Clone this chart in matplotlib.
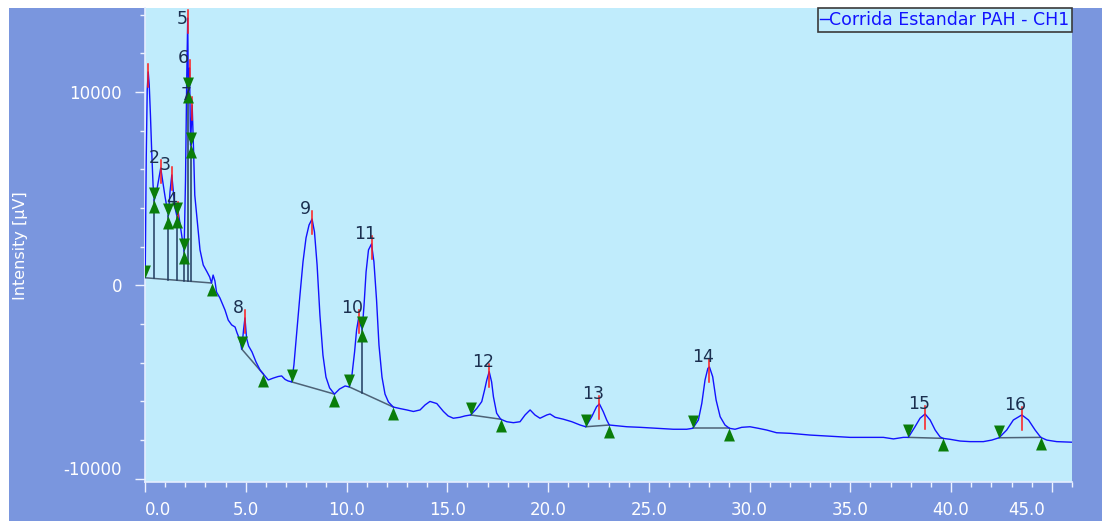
# coding: utf-8
import numpy as np
import matplotlib.pyplot as plt
from matplotlib.patches import Rectangle
from matplotlib.transforms import ScaledTranslation

plt.rcParams['axes.unicode_minus'] = False

# Cromatograma: tiempo de retencion [min] / intensidad [uV]
tiempo = [
	0.01, 0.06, 0.11, 0.16, 0.21, 0.27, 0.33, 0.40, 0.46, 0.57,
	0.69, 0.78, 0.87, 0.99, 1.16, 1.24, 1.33, 1.40, 1.49, 1.57,
	1.63, 1.71, 1.84, 1.94, 2.01, 2.07, 2.12, 2.15, 2.21, 2.26,
	2.34, 2.41, 2.47, 2.61, 2.73, 2.89, 3.08, 3.21, 3.30, 3.38,
	3.47, 3.55, 3.72, 3.97, 4.13, 4.30, 4.47, 4.57, 4.71, 4.80,
	4.89, 4.96, 5.04, 5.14, 5.31, 5.51, 5.71, 5.87, 6.12, 6.37,
	6.61, 6.78, 6.95, 7.10, 7.28, 7.39, 7.54, 7.69, 7.84, 7.99,
	8.14, 8.29, 8.41, 8.54, 8.68, 8.83, 8.98, 9.16, 9.40, 9.65,
	9.93, 10.14, 10.27, 10.40, 10.50, 10.60, 10.69, 10.78, 10.87, 10.97,
	11.09, 11.24, 11.36, 11.49, 11.61, 11.76, 11.91, 12.08, 12.32, 12.66,
	12.99, 13.32, 13.65, 13.90, 14.14, 14.48, 14.81, 15.04, 15.30, 15.63,
	15.88, 16.16, 16.46, 16.71, 16.85, 16.96, 17.08, 17.20, 17.29, 17.45,
	17.65, 17.95, 18.28, 18.61, 18.86, 19.11, 19.35, 19.60, 19.94, 20.10,
	20.35, 20.76, 21.18, 21.59, 21.87, 22.17, 22.41, 22.55, 22.74, 22.91,
	23.04, 23.41, 23.91, 24.57, 25.39, 26.22, 26.88, 27.18, 27.46, 27.63,
	27.79, 27.93, 28.01, 28.17, 28.34, 28.54, 28.78, 29.00, 29.28, 29.61,
	30.02, 30.43, 30.85, 31.34, 32.01, 33.00, 33.83, 34.99, 35.98, 36.64,
	37.14, 37.63, 37.88, 38.21, 38.46, 38.71, 38.96, 39.21, 39.45, 39.59,
	39.95, 40.45, 40.94, 41.60, 42.02, 42.38, 42.76, 43.09, 43.51, 43.84,
	44.17, 44.45, 44.75, 45.24, 45.99,
]
intensidad = [
	390, 6480, 10110, 11040, 10370, 8810, 7000, 5190, 4410, 4830,
	5550, 6070, 5450, 4620, 3590, 4830, 5710, 4930, 4000, 3640,
	3900, 3380, 2450, 1780, 5450, 10620, 13830, 10110, 11250, 7260,
	9330, 7000, 4670, 3120, 1830, 1050, 690, 430, 120, 530,
	220, -350, -660, -1280, -1800, -2050, -2160, -2470, -2830, -3300,
	-2310, -1690, -2730, -3140, -3450, -3970, -4380, -4590, -4900, -4800,
	-4720, -4690, -4870, -4950, -5000, -4120, -2310, -500, 1210, 2450,
	3120, 3430, 2760, 1050, -1540, -3610, -4750, -5310, -5630, -5370,
	-5210, -5260, -4640, -3450, -2310, -1690, -2050, -2260, -1020, 690,
	1830, 2140, 1210, -760, -3090, -4750, -5630, -6040, -6300, -6380,
	-6450, -6530, -6450, -6190, -6010, -6120, -6530, -6760, -6880, -6830,
	-6760, -6710, -6380, -6020, -5420, -4900, -4470, -5000, -5770, -6620,
	-6930, -7060, -7110, -7060, -6710, -6450, -6710, -6880, -6710, -6660,
	-6830, -6930, -7060, -7230, -7320, -6800, -6280, -6140, -6540, -6970,
	-7230, -7270, -7320, -7350, -7400, -7450, -7450, -7400, -6970, -6110,
	-4900, -4300, -4230, -4730, -5940, -6800, -7230, -7400, -7450, -7350,
	-7320, -7400, -7490, -7630, -7660, -7750, -7800, -7870, -7870, -7870,
	-7950, -7870, -7870, -7320, -6880, -6660, -6970, -7490, -7840, -7920,
	-7970, -8060, -8090, -8090, -8010, -7890, -7490, -6970, -6710, -6970,
	-7490, -7870, -8010, -8090, -8120,
]

# Picos detectados (tiempo del maximo) y su numero
picos_t = [0.16, 0.78, 1.33, 1.63, 2.12, 2.21, 2.34, 4.96, 8.29, 10.60,
	11.24, 17.08, 22.55, 28.01, 38.71, 43.51]
picos_id = ['', '2', '3', '4', '5', '6', '7', '8', '9', '10',
	'11', '12', '13', '14', '15', '16']

# Lineas base: inicio y fin de cada grupo de picos
base_ini = [0.01, 4.80, 7.28, 10.14, 16.16, 21.87, 27.18, 37.88, 42.38]
base_fin = [3.30, 5.87, 9.40, 12.32, 17.65, 23.04, 29.00, 39.59, 44.45]

# Valles entre picos solapados (corte vertical)
valles = [0.46, 1.16, 1.57, 1.94, 2.15, 2.26, 10.78]

nombre = 'Corrida Estandar PAH - CH1'

# colores
c_marco = '#7a96de'
c_fondo = '#c0ecfc'
c_traza = '#1212ff'
c_verde = '#0a7d0a'

t = np.array(tiempo)
v = np.array(intensidad)

fig = plt.figure(figsize=(11.02, 5.21), dpi=100)
fig.patch.set_facecolor('white')
fig.add_artist(Rectangle((9 / 1102, 0), 1, 513 / 521, transform=fig.transFigure,
	facecolor=c_marco, edgecolor='none', zorder=-10))

ax = fig.add_axes([145 / 1102, 38.7 / 521, 927 / 1102, 474 / 521])
ax.set_facecolor(c_fondo)

# traza
ax.plot(t, v, color=c_traza, lw=1.0, label=nombre, zorder=3)

# lineas base y cortes verticales
for a, b in zip(base_ini, base_fin):
	ax.plot([a, b], np.interp([a, b], t, v), color='#4d6276', lw=1.1, zorder=2)

for x in valles:
	for a, b in zip(base_ini, base_fin):
		if a < x < b:
			yb = np.interp(x, [a, b], np.interp([a, b], t, v))
			ax.plot([x, x], [np.interp(x, t, v), yb], color='#1f3a5f', lw=1.1, zorder=2)

# marcas del maximo (rojo) y numero de pico
offsets = {'5': (-4, -1)}
for x, n in zip(picos_t, picos_id):
	y = np.interp(x, t, v)
	ax.plot([x, x], [y + 410, y - 780], color='#ff1a1a', lw=1.1, zorder=4)
	if n:
		dx, dy = offsets.get(n, (-4.5, 7))
		ax.annotate(n, (x, y), xytext=(dx, dy), textcoords='offset points',
			ha='center', va='center', fontsize=12.5, color='#1b2f4f', zorder=6)

# triangulos de inicio / fin de pico
mk_ini = [(-0.42, 1), (0.42, 1), (0, 0), (-0.42, 1)]
mk_fin = [(-0.42, -1), (0.42, -1), (0, 0), (-0.42, -1)]
xi = base_ini + valles
xf = base_fin + valles
ax.plot(xi, np.interp(xi, t, v), ls='none', marker=mk_ini, ms=18.7,
	color=c_verde, mec='none', zorder=5)
ax.plot(xf, np.interp(xf, t, v), ls='none', marker=mk_fin, ms=18.7,
	color=c_verde, mec='none', zorder=5)

# ejes
ax.set_xlim(0, 46.0)
ax.set_ylim(-10195, 14335)
ax.set_xticks(np.arange(0, 46, 5))
ax.set_xticklabels(['%.1f' % x for x in np.arange(0, 46, 5)])
ax.set_xticks(np.arange(0, 47, 1), minor=True)
ax.set_yticks([-10000, 0, 10000])
ax.set_yticks(np.arange(-10000, 14001, 2000), minor=True)

for s in ['top', 'right']:
	ax.spines[s].set_visible(False)
for s in ['left', 'bottom']:
	ax.spines[s].set_color('#e6eeff')
	ax.spines[s].set_linewidth(1.2)

ax.tick_params(which='both', direction='out', colors='#eef2ff', width=1.0)
ax.tick_params(which='major', length=7.5, labelsize=12, labelcolor='white')
ax.tick_params(which='minor', length=3.8)
ax.tick_params(axis='y', which='major', pad=9)
ax.tick_params(axis='x', which='major', pad=6)

etiq = ax.get_xticklabels()
etiq[0].set_ha('left')
etiq[-1].set_ha('right')
etiq[-1].set_transform(etiq[-1].get_transform() + ScaledTranslation(-7 / 100, 0, fig.dpi_scale_trans))
ax.get_yticklabels()[0].set_va('bottom')

ax.set_ylabel('Intensity [µV]', color='white', fontsize=11.5)
ax.yaxis.set_label_coords(-0.126, 0.5)

leg = ax.legend(loc='upper right', borderaxespad=0, handlelength=0.5,
	handletextpad=0.0, borderpad=0.15, fancybox=False, framealpha=1,
	facecolor=c_fondo, edgecolor='#3a3a3a', fontsize=12.5, labelcolor=c_traza)
leg.get_frame().set_linewidth(1.2)

fig.savefig('out.png', dpi=100)
